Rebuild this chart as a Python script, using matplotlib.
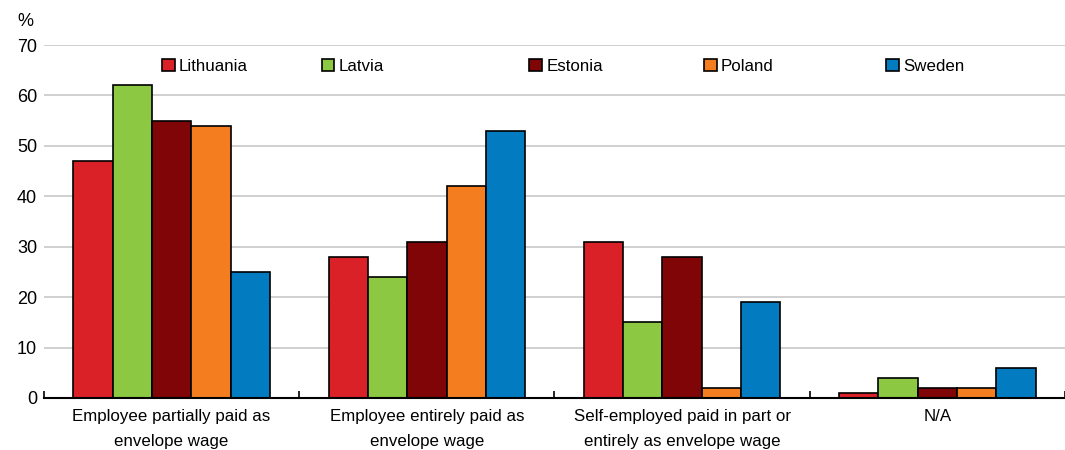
import matplotlib.pyplot as plt
import numpy as np
from matplotlib.patches import Patch

plt.rcParams["font.family"] = ["Liberation Sans", "DejaVu Sans"]

categories = [
    "Employee partially paid as\nenvelope wage",
    "Employee entirely paid as\nenvelope wage",
    "Self-employed paid in part or\nentirely as envelope wage",
    "N/A",
]
countries = ["Lithuania", "Latvia", "Estonia", "Poland", "Sweden"]
colors = ["#DA2128", "#8CC841", "#7F0506", "#F47D20", "#037BC1"]

lithuania = [47, 28, 31, 1]
latvia = [62, 24, 15, 4]
estonia = [55, 31, 28, 2]
poland = [54, 42, 2, 2]
sweden = [25, 53, 19, 6]
series = [lithuania, latvia, estonia, poland, sweden]

# left edge of each legend entry, in figure fraction
legend_x = [0.152, 0.302, 0.497, 0.661, 0.832]

fig = plt.figure(figsize=(10.65, 4.5), dpi=100)
ax = fig.add_axes([0.0413, 0.1156, 0.9587, 0.7844])

x = np.arange(len(categories))
width = 0.154
for i, (vals, col) in enumerate(zip(series, colors)):
    ax.bar(x + (i - 2) * width, vals, width, color=col, edgecolor="black",
           linewidth=1.2, zorder=3)

ax.set_ylim(0, 70)
ax.set_xlim(-0.5, 3.5)
ax.set_yticks(range(0, 71, 10))
ax.yaxis.grid(True, color="#c8c8c8", linewidth=1.2, zorder=0)
ax.tick_params(axis="y", length=0, labelsize=13, pad=5)

ax.set_xticks(np.arange(-0.5, 3.6, 1.0))
ax.set_xticklabels([])
ax.set_xticks(x, minor=True)
ax.set_xticklabels(categories, minor=True, fontsize=12.2, linespacing=1.8)
ax.tick_params(axis="x", which="major", direction="in", length=5, width=1.2)
ax.tick_params(axis="x", which="minor", length=0, pad=8)

for s in ["top", "right", "left"]:
    ax.spines[s].set_visible(False)
ax.spines["bottom"].set_linewidth(1.5)
ax.spines["bottom"].set_zorder(4)

fig.text(0.024, 0.953, "%", fontsize=13, ha="center", va="center")

for name, col, lx in zip(countries, colors, legend_x):
    h = Patch(facecolor=col, edgecolor="black", linewidth=1.2)
    fig.legend([h], [name], loc="center left", bbox_to_anchor=(lx, 0.853),
               frameon=False, fontsize=12.2, handlelength=0.75, handleheight=0.75,
               handletextpad=0.25, borderaxespad=0, borderpad=0)

fig.savefig("out.png", dpi=100)
